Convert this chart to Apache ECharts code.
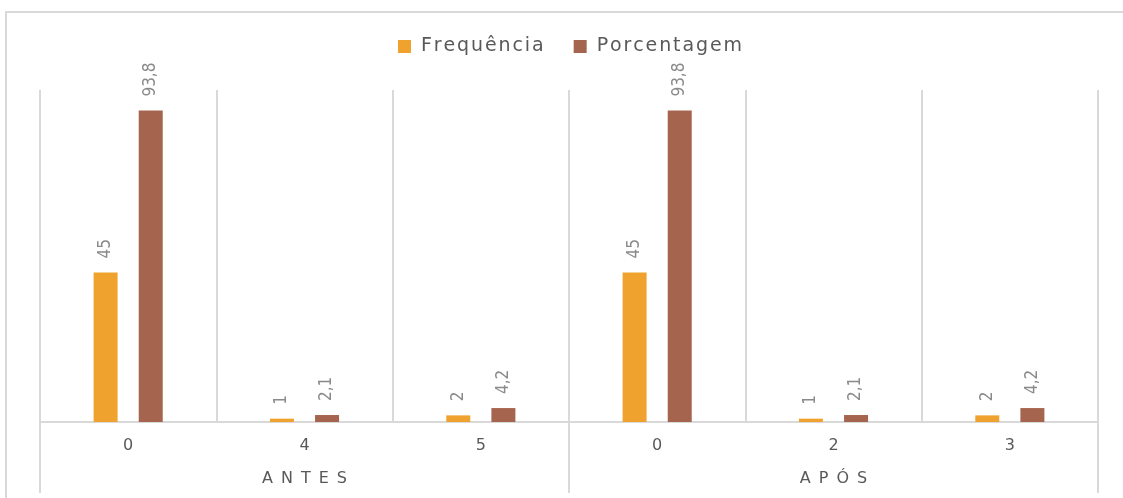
<!DOCTYPE html>
<html>
<head>
<meta charset="utf-8">
<title>Frequência e Porcentagem</title>
<script src="https://cdn.jsdelivr.net/npm/echarts@6/dist/echarts.min.js"></script>
<style>
  html, body { margin: 0; padding: 0; background: #ffffff; }
  #chart { width: 1123px; height: 498px; }
</style>
</head>
<body>
<div id="chart"></div>
<script>
// Category ticks (inner level) and their groups (outer level)
const tickLabels = ['0', '4', '5', '0', '2', '3'];
const groupLabels = ['ANTES', 'APÓS'];

// Series values
const frequencia = [45, 1, 2, 45, 1, 2];
const porcentagem = [93.8, 2.1, 4.2, 93.8, 2.1, 4.2];

const seriesNames = ['Frequência', 'Porcentagem'];
const colors = ['#F0A22E', '#A5644E'];

const gridColor = '#d9d9d9';
const textColor = '#595959';

const chart = echarts.init(document.getElementById('chart'), null, { renderer: 'canvas' });

// Letter spacing helpers
const spaced = (s, gap) => s.split('').join(gap);

const valueLabel = {
  show: true,
  position: 'top',
  rotate: 90,
  align: 'left',
  verticalAlign: 'middle',
  distance: 14,
  color: '#8a8a8a',
  fontFamily: '"DejaVu Sans Condensed", "Liberation Sans Narrow", sans-serif',
  fontSize: 17,
  formatter: p => String(p.value).replace('.', ',')
};

chart.setOption({
  animation: false,
  color: colors,
  graphic: [{
    type: 'rect',
    silent: true,
    shape: { x: 6, y: 12, width: 1140, height: 520 },
    style: { fill: 'none', stroke: gridColor, lineWidth: 2 }
  }],
  legend: {
    top: 32,
    left: 393,
    itemWidth: 13,
    itemHeight: 13,
    itemGap: 30,
    icon: 'rect',
    formatter: name => spaced(name, '\u200A'),
    textStyle: {
      color: textColor,
      fontFamily: '"DejaVu Sans", sans-serif',
      fontSize: 19,
      padding: [0, 0, 0, 5]
    },
    data: seriesNames
  },
  grid: { left: 40, right: 25, top: 90, bottom: 76, containLabel: false },
  xAxis: [
    {
      type: 'category',
      data: tickLabels,
      position: 'bottom',
      axisLine: { show: true, lineStyle: { color: gridColor, width: 2 } },
      axisTick: { show: false },
      splitLine: { show: true, interval: 0, lineStyle: { color: gridColor, width: 2 } },
      axisLabel: {
        interval: 0,
        margin: 16,
        color: textColor,
        fontFamily: '"DejaVu Sans", sans-serif',
        fontSize: 16
      }
    },
    {
      type: 'category',
      data: groupLabels,
      position: 'bottom',
      axisLine: { show: false },
      axisTick: { show: true, interval: 0, length: 71, lineStyle: { color: gridColor, width: 2 } },
      splitLine: { show: false },
      axisLabel: {
        interval: 0,
        margin: 49,
        color: textColor,
        fontFamily: '"DejaVu Sans", sans-serif',
        fontSize: 16,
        formatter: v => spaced(v, '\u2009\u2009\u200A')
      }
    }
  ],
  yAxis: {
    type: 'value',
    min: 0,
    max: 100,
    show: false,
    splitLine: { show: false }
  },
  series: [
    {
      name: seriesNames[0],
      type: 'bar',
      xAxisIndex: 0,
      data: frequencia,
      barWidth: 24,
      barGap: '88%',
      label: valueLabel
    },
    {
      name: seriesNames[1],
      type: 'bar',
      xAxisIndex: 0,
      data: porcentagem,
      barWidth: 24,
      barGap: '88%',
      label: valueLabel
    }
  ]
});
</script>
</body>
</html>
